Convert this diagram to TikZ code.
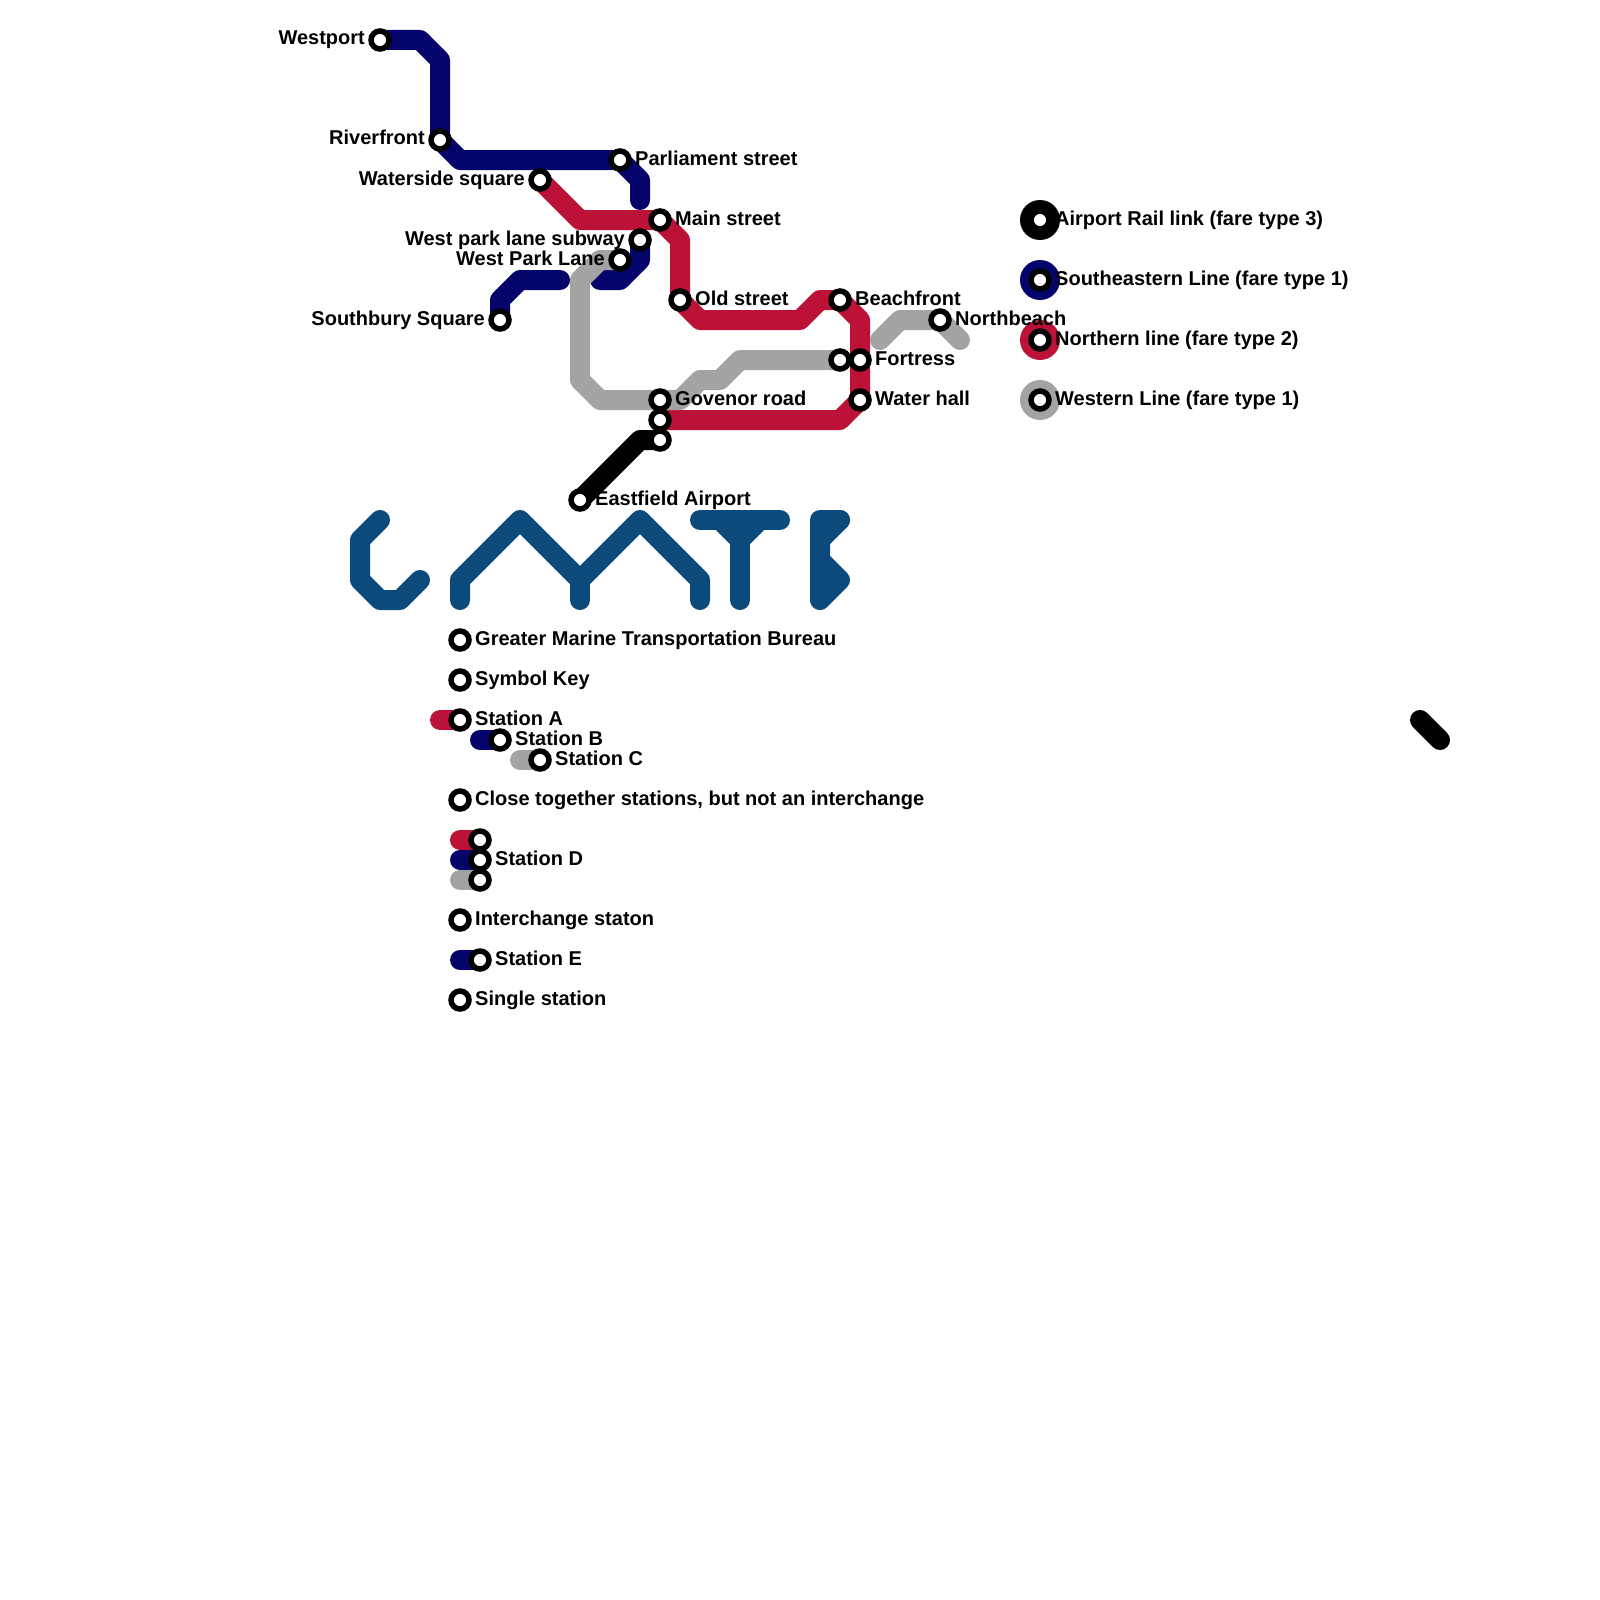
\documentclass[tikz,border=0pt]{standalone}
\usepackage{fontspec}
\setmainfont{Liberation Sans}
\usetikzlibrary{backgrounds}
\definecolor{navyline}{HTML}{04046B}
\definecolor{redline}{HTML}{BC1237}
\definecolor{greyline}{HTML}{A3A3A3}
\definecolor{logoblue}{HTML}{0C4A7C}

\begin{document}
\begin{tikzpicture}[x=1pt,y=-1pt,
  metroline/.style={line width=20pt,line cap=round,line join=round},
  stn/.style={circle,draw=black,line width=5.5pt,fill=white,inner sep=0pt,minimum size=18pt},
  keydot/.style={circle,inner sep=0pt,minimum size=40pt},
  lblr/.style={anchor=base west,inner sep=0pt,font=\fontsize{20pt}{20pt}\selectfont\bfseries},
  lbll/.style={anchor=base east,inner sep=0pt,font=\fontsize{20pt}{20pt}\selectfont\bfseries}]
  \useasboundingbox (0,0) rectangle (1600,1600);
  % key discs
  \node[keydot,fill=black] (keyair) at (1040,220) {};
  \node[keydot,fill=navyline] (keyse) at (1040,280) {};
  \node[keydot,fill=redline] (keyno) at (1040,340) {};
  \node[keydot,fill=greyline] (keywe) at (1040,400) {};
  % stations on the map
  \node[stn] (westport) at (380,40) {};
  \node[stn] (riverfront) at (440,140) {};
  \node[stn] (parliament) at (620,160) {};
  \node[stn] (waterside) at (540,180) {};
  \node[stn] (mainst) at (660,220) {};
  \node[stn] (subway) at (640,240) {};
  \node[stn] (westpark) at (620,260) {};
  \node[stn] (oldst) at (680,300) {};
  \node[stn] (beachfront) at (840,300) {};
  \node[stn] (southbury) at (500,320) {};
  \node[stn] (northbeach) at (940,320) {};
  \node[stn] (fortwest) at (840,360) {};
  \node[stn] (fortress) at (860,360) {};
  \node[stn] (govenor) at (660,400) {};
  \node[stn] (waterhall) at (860,400) {};
  \node[stn] (govred) at (660,420) {};
  \node[stn] (govair) at (660,440) {};
  \node[stn] (airport) at (580,500) {};
  % stations on the key
  \node[stn] (keyhead) at (460,640) {};
  \node[stn] (keysym) at (460,680) {};
  \node[stn] (keya) at (460,720) {};
  \node[stn] (keyb) at (500,740) {};
  \node[stn] (keyc) at (540,760) {};
  \node[stn] (keyclose) at (460,800) {};
  \node[stn] (keydr) at (480,840) {};
  \node[stn] (keydn) at (480,860) {};
  \node[stn] (keydg) at (480,880) {};
  \node[stn] (keyinter) at (460,920) {};
  \node[stn] (keye) at (480,960) {};
  \node[stn] (keysingle) at (460,1000) {};
  \node[stn] (legair) at (1040,220) {};
  \node[stn] (legse) at (1040,280) {};
  \node[stn] (legno) at (1040,340) {};
  \node[stn] (legwe) at (1040,400) {};
  \begin{scope}[on background layer]
    % southeastern line
    \draw[metroline,navyline] (westport.center) -- (420,40) -- (440,60) -- (riverfront.center)
      -- (460,160) -- (parliament.center) -- (640,180) -- (640,200);
    \draw[metroline,navyline] (subway.center) -- (640,260) -- (620,280) -- (600,280);
    \draw[metroline,navyline] (southbury.center) -- (500,300) -- (520,280) -- (560,280);
    % northern line
    \draw[metroline,redline] (waterside.center) -- (580,220) -- (mainst.center) -- (680,240)
      -- (oldst.center) -- (700,320) -- (800,320) -- (820,300) -- (beachfront.center)
      -- (860,320) -- (fortress.center) -- (waterhall.center) -- (840,420) -- (govred.center);
    % western line
    \draw[metroline,greyline] (westpark.center) -- (600,260) -- (580,280) -- (580,380)
      -- (600,400) -- (govenor.center) -- (680,400) -- (700,380) -- (720,380) -- (740,360)
      -- (fortwest.center);
    \draw[metroline,greyline] (880,340) -- (900,320) -- (northbeach.center) -- (960,340);
    % airport link
    \draw[metroline,black] (airport.center) -- (640,440) -- (govair.center);
    \draw[metroline,black] (1420,720) -- (1440,740);
    % logo
    \draw[metroline,logoblue] (380,520) -- (360,540) -- (360,580) -- (380,600) -- (400,600) -- (420,580);
    \draw[metroline,logoblue] (460,600) -- (460,580) -- (520,520) -- (580,580) -- (640,520) -- (700,580) -- (700,600);
    \draw[metroline,logoblue] (580,580) -- (580,600);
    \draw[metroline,logoblue] (700,520) -- (780,520);
    \draw[metroline,logoblue] (720,520) -- (740,540) -- (760,520);
    \draw[metroline,logoblue] (740,540) -- (740,600);
    \draw[metroline,logoblue] (840,520) -- (820,520) -- (820,600) -- (840,580) -- (820,560);
    \draw[metroline,logoblue] (820,540) -- (840,520);
    % key samples
    \draw[metroline,redline] (440,720) -- (keya.center);
    \draw[metroline,navyline] (480,740) -- (keyb.center);
    \draw[metroline,greyline] (520,760) -- (keyc.center);
    \draw[metroline,redline] (460,840) -- (keydr.center);
    \draw[metroline,navyline] (460,860) -- (keydn.center);
    \draw[metroline,greyline] (460,880) -- (keydg.center);
    \draw[metroline,navyline] (460,960) -- (keye.center);
  \end{scope}
  % labels
  \node[lbll] (lwestport) at (365,45) {Westport};
  \node[lbll] (lriverfront) at (425,145) {Riverfront};
  \node[lblr] (lparliament) at (635,165) {Parliament street};
  \node[lbll] (lwaterside) at (525,185) {Waterside square};
  \node[lblr] (lmainst) at (675,225) {Main street};
  \node[lbll] (lsubway) at (625,245) {West park lane subway};
  \node[lbll] (lwestpark) at (605,265) {West Park Lane};
  \node[lblr] (loldst) at (695,305) {Old street};
  \node[lblr] (lbeachfront) at (855,305) {Beachfront};
  \node[lbll] (lsouthbury) at (485,325) {Southbury Square};
  \node[lblr] (lnorthbeach) at (955,325) {Northbeach};
  \node[lblr] (lfortress) at (875,365) {Fortress};
  \node[lblr] (lgovenor) at (675,405) {Govenor road};
  \node[lblr] (lwaterhall) at (875,405) {Water hall};
  \node[lblr] (lairport) at (595,505) {Eastfield Airport};
  \node[lblr] (lkeyhead) at (475,645) {Greater Marine Transportation Bureau};
  \node[lblr] (lkeysym) at (475,685) {Symbol Key};
  \node[lblr] (lkeya) at (475,725) {Station A};
  \node[lblr] (lkeyb) at (515,745) {Station B};
  \node[lblr] (lkeyc) at (555,765) {Station C};
  \node[lblr] (lkeyclose) at (475,805) {Close together stations, but not an interchange};
  \node[lblr] (lkeyd) at (495,865) {Station D};
  \node[lblr] (lkeyinter) at (475,925) {Interchange staton};
  \node[lblr] (lkeye) at (495,965) {Station E};
  \node[lblr] (lkeysingle) at (475,1005) {Single station};
  \node[lblr] (llegair) at (1055,225) {Airport Rail link (fare type 3)};
  \node[lblr] (llegse) at (1055,285) {Southeastern Line (fare type 1)};
  \node[lblr] (llegno) at (1055,345) {Northern line (fare type 2)};
  \node[lblr] (llegwe) at (1055,405) {Western Line (fare type 1)};
\end{tikzpicture}
\end{document}
